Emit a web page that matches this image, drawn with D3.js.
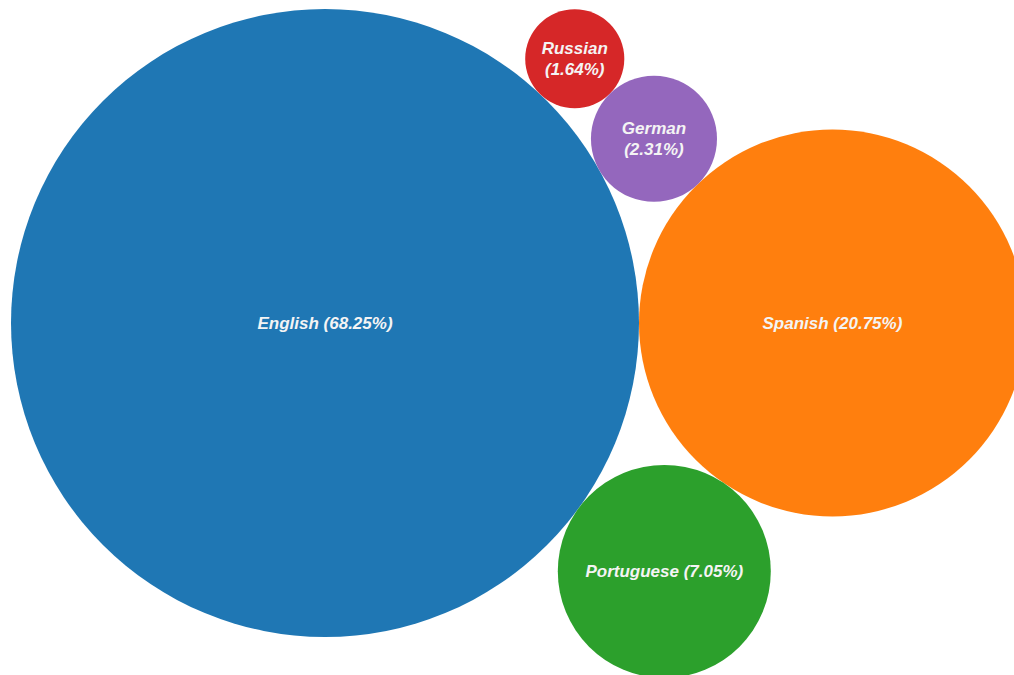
<!DOCTYPE html>
<html>
<head>
    <meta charset="utf-8">
    <script src="https://d3js.org/d3.v7.min.js"></script>
    <style>
        body { margin: 0; background: #fff; }
        .label {
            fill: #f4f4f4;
            font-family: "Liberation Sans", Arial, sans-serif;
            font-weight: bold;
            font-style: italic;
            font-size: 17px;
            text-anchor: middle;
        }
    </style>
</head>
<body>
    <script>
        // languages in data order (colour order follows this)
        var languages = ["English", "Spanish", "Portuguese", "Russian", "German"];
        // share shown in the labels
        var shares = [68.25, 20.75, 7.05, 1.64, 2.31];
        // bubble size (area)
        var bubbleSizes = [68.25, 25.9, 7.85, 1.70, 2.75];

        var width = 1014, height = 675;

        var svg = d3.select("body").append("svg")
            .attr("width", width)
            .attr("height", height);

        var color = d3.scaleOrdinal()
            .domain(languages)
            .range(d3.schemeCategory10);

        var radius = d3.scaleSqrt()
            .domain([0, d3.max(bubbleSizes)])
            .range([0, 314]);

        var nodes = languages.map(function (name, i) {
            return { name: name, share: shares[i], size: bubbleSizes[i], r: radius(bubbleSizes[i]) };
        });

        // pack biggest first, like d3.pack does
        var packed = nodes.slice().sort(function (a, b) { return b.size - a.size; });
        d3.packSiblings(packed);

        // shift so the biggest bubble sits 11px from the left and 9px from the top
        var big = packed[0];
        var tx = 11 + big.r - big.x,
            ty = 9 + big.r - big.y;

        var g = svg.append("g")
            .attr("transform", "translate(" + tx + "," + ty + ")");

        var bubble = g.selectAll(".bubble")
            .data(nodes)
            .enter().append("g")
            .attr("class", "bubble")
            .attr("transform", function (d) { return "translate(" + d.x + "," + d.y + ")"; });

        bubble.append("circle")
            .attr("r", function (d) { return d.r; })
            .style("fill", function (d) { return color(d.name); });

        var label = bubble.append("text")
            .attr("class", "label")
            .attr("dy", "0.35em")
            .text(function (d) { return d.name + " (" + d.share.toFixed(2) + "%)"; });

        // wrap the label when it doesn't fit comfortably
        label.each(function (d) {
            var t = d3.select(this);
            if (this.getComputedTextLength() > d.r * 2 * 0.8) {
                t.text(null).attr("dy", null);
                t.append("tspan").attr("x", 0).attr("y", -10.5).attr("dy", "0.35em").text(d.name);
                t.append("tspan").attr("x", 0).attr("y", 10.5).attr("dy", "0.35em").text("(" + d.share.toFixed(2) + "%)");
            }
        });
    </script>
</body>
</html>
